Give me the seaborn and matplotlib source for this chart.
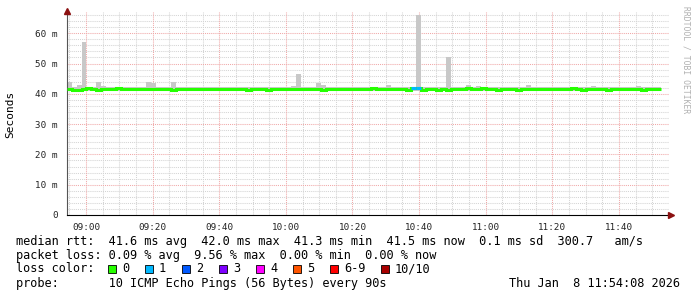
import numpy as np
import pandas as pd
import matplotlib
matplotlib.use("Agg")
import matplotlib.pyplot as plt
import seaborn as sns
from matplotlib.patches import Rectangle

# ---------------- data (ms, 90 s steps starting ~08:54:09) ----------------
start_min = 534.15  # minutes after midnight
step_min = 1.5
median_ms = [
    41.7, 41.3, 41.4, 41.7, 41.8, 41.5, 41.4, 41.7, 41.6, 41.6,
    41.8, 41.6, 41.5, 41.7, 41.6, 41.6, 41.5, 41.7, 41.7, 41.7,
    41.5, 41.4, 41.6, 41.7, 41.6, 41.6, 41.6, 41.6, 41.6, 41.5,
    41.6, 41.5, 41.6, 41.7, 41.7, 41.6, 41.4, 41.6, 41.7, 41.6,
    41.4, 41.6, 41.7, 41.6, 41.7, 41.5, 41.6, 41.7, 41.7, 41.6,
    41.5, 41.4, 41.6, 41.7, 41.6, 41.6, 41.6, 41.5, 41.6, 41.6,
    41.7, 41.8, 41.7, 41.6, 41.5, 41.6, 41.5, 41.6, 41.4, 41.9,
    41.9, 41.3, 41.6, 41.7, 41.4, 41.6, 41.4, 41.5, 41.6, 41.7,
    41.8, 41.6, 41.7, 41.8, 41.6, 41.7, 41.4, 41.5, 41.6, 41.7,
    41.4, 41.6, 41.7, 41.6, 41.6, 41.5, 41.7, 41.7, 41.6, 41.5,
    41.6, 41.8, 41.6, 41.4, 41.6, 41.5, 41.6, 41.6, 41.4, 41.6,
    41.7, 41.5, 41.6, 41.5, 41.6, 41.4, 41.6, 41.6, 41.5,
]
smoke_max_ms = [
    44.0, 42.2, 43.0, 57.0, 42.2, 42.2, 44.0, 42.7, 42.2, 42.2,
    42.2, 42.2, 42.2, 42.2, 42.2, 42.2, 44.0, 43.5, 42.2, 42.2,
    42.2, 44.0, 42.2, 42.2, 42.2, 42.2, 42.2, 42.2, 42.2, 42.2,
    42.2, 42.2, 42.2, 42.2, 42.2, 42.2, 42.2, 42.2, 42.2, 42.2,
    42.2, 42.2, 42.2, 42.2, 42.2, 42.5, 46.5, 42.2, 42.2, 42.2,
    43.5, 43.0, 42.2, 42.2, 42.2, 42.2, 42.2, 42.2, 42.2, 42.2,
    42.2, 42.2, 42.2, 42.2, 42.8, 42.2, 42.2, 42.2, 42.2, 42.2,
    66.0, 42.2, 42.2, 42.2, 42.2, 42.3, 52.0, 42.2, 42.2, 42.2,
    42.8, 42.2, 42.5, 42.2, 42.2, 42.2, 42.2, 42.2, 42.2, 42.2,
    42.2, 42.2, 42.8, 42.2, 42.2, 42.2, 42.2, 42.2, 42.2, 42.2,
    42.2, 42.2, 42.2, 42.2, 42.3, 42.5, 42.2, 42.2, 42.2, 42.2,
    42.2, 42.2, 42.2, 42.2, 42.5, 42.2, 42.2, 42.2, 42.2,
]
smoke_min_ms = [41.0] * len(median_ms)
loss_count = [0] * len(median_ms)
loss_count[69] = 1
loss_count[70] = 1

loss_labels = ["0", "1", "2", "3", "4", "5", "6-9", "10/10"]
loss_colors = ["#26ff00", "#00b8ff", "#0059ff", "#7e00ff", "#ff00ff",
               "#ff5500", "#ff0000", "#a80000"]

xtick_minutes = [540, 560, 580, 600, 620, 640, 660, 680, 700]
xtick_labels = ["09:00", "09:20", "09:40", "10:00", "10:20", "10:40",
                "11:00", "11:20", "11:40"]
ytick_values = [0, 10, 20, 30, 40, 50, 60]
ytick_labels = ["0", "10 m", "20 m", "30 m", "40 m", "50 m", "60 m"]

legend_lines = [
    "median rtt:  41.6 ms avg  42.0 ms max  41.3 ms min  41.5 ms now  0.1 ms sd  300.7   am/s",
    "packet loss: 0.09 % avg  9.56 % max  0.00 % min  0.00 % now",
    "loss color:",
    "probe:       10 ICMP Echo Pings (56 Bytes) every 90s",
]
date_text = "Thu Jan  8 11:54:08 2026"

# ---------------- build frame ----------------
n = len(median_ms)
df = pd.DataFrame({
    "t": start_min + step_min * np.arange(n),
    "median": median_ms,
    "lo": smoke_min_ms,
    "hi": smoke_max_ms,
    "loss": loss_count,
})

# ---------------- figure ----------------
sns.set_style("white")
plt.rcParams["font.family"] = ["DejaVu Sans Mono", "DejaVu Sans"]

W, H = 697, 297
fig = plt.figure(figsize=(W / 100, H / 100), dpi=100)
fig.patch.set_facecolor("white")
x0, x1, ytop, ybot = 67, 669, 12, 215
ax = fig.add_axes([x0 / W, 1 - ybot / H, (x1 - x0) / W, (ybot - ytop) / H])
ax.set_facecolor("white")

xmin = 540 - (86 - x0) / 3.331
xmax = 540 + (x1 - 86) / 3.331
ax.set_xlim(xmin, xmax)
ax.set_ylim(0, 67)

# grid
for v in np.arange(0, 67, 2):
    if v % 10 == 0:
        continue
    ax.axhline(v, color="#d4d4d4", lw=0.75, ls=(0, (1, 1)), zorder=0)
for v in np.arange(535, 716, 5):
    if v % 20 == 0:
        continue
    ax.axvline(v, color="#d4d4d4", lw=0.75, ls=(0, (1, 1)), zorder=0)
for v in ytick_values[1:]:
    ax.axhline(v, color="#f0a8a8", lw=0.75, ls=(0, (1, 1)), zorder=0.5)
for v in xtick_minutes:
    ax.axvline(v, color="#f0a8a8", lw=0.75, ls=(0, (1, 1)), zorder=0.5)

# smoke
ax.bar(df["t"], df["hi"] - df["lo"], bottom=df["lo"], width=step_min,
       align="edge", color="#c8c8c8", linewidth=0, zorder=2)

# median line (seaborn, green), with loss-colored overlays
line_t = np.append(df["t"].values, df["t"].values[-1] + step_min)
line_v = np.append(df["median"].values, df["median"].values[-1])
sns.lineplot(x=line_t, y=line_v, ax=ax, color=loss_colors[0], lw=2.2,
             drawstyle="steps-post", zorder=3, sort=False,
             solid_capstyle="butt", solid_joinstyle="miter")
for t, m, l in zip(df["t"], df["median"], df["loss"]):
    if l > 0:
        ax.hlines(m, t, t + step_min, colors=loss_colors[min(l, 7)], lw=2.2, zorder=4)

# axes styling
for s in ["top", "right"]:
    ax.spines[s].set_visible(False)
ax.spines["left"].set_color("#555555")
ax.spines["bottom"].set_color("#000000")
ax.spines["left"].set_linewidth(0.8)
ax.spines["bottom"].set_linewidth(0.8)
ax.set_xticks(xtick_minutes)
ax.set_xticklabels(xtick_labels)
ax.set_yticks(ytick_values)
ax.set_yticklabels(ytick_labels)
ax.tick_params(axis="both", labelsize=6.7, colors="#222222", length=2.5,
               width=0.7, direction="out")
ax.tick_params(axis="x", pad=3)
ax.tick_params(axis="y", pad=4)
ax.set_xlabel("")
ax.set_ylabel("")

# arrows
ax.plot([xmin], [67.4], marker="^", color="#8b1010", ms=4.5, clip_on=False, zorder=5)
ax.plot([xmax + 0.6], [0], marker=">", color="#8b1010", ms=4.5, clip_on=False, zorder=5)

# labels
fig.text(10 / W, 1 - 114 / H, "Seconds", rotation=90, fontsize=8,
         ha="center", va="center", color="#000000")
fig.text(686 / W, 1 - 60 / H, "RRDTOOL / TOBI OETIKER", rotation=270,
         fontsize=5.8, ha="center", va="center", color="#b0b0b0")

rows_y = [241, 255.3, 268.7, 283.3]
for txt, yy in zip(legend_lines, rows_y):
    fig.text(16 / W, 1 - yy / H, txt, fontsize=8.55, ha="left", va="center",
             color="#000000")
fig.text(680 / W, 1 - rows_y[3] / H, date_text, fontsize=8.55, ha="right",
         va="center", color="#000000")

box_lefts = [108, 145, 182, 219, 256, 293, 330, 381]
for bl, col, lab in zip(box_lefts, loss_colors, loss_labels):
    fig.patches.append(Rectangle((bl / W, 1 - 272.5 / H), 8 / W, 8 / H,
                                 transform=fig.transFigure, facecolor=col,
                                 edgecolor="#000000", lw=0.6))
    fig.text((bl + 14) / W, 1 - rows_y[2] / H, lab, fontsize=8.55,
             ha="left", va="center", color="#000000")

fig.savefig("out.png", dpi=100, facecolor="white")
